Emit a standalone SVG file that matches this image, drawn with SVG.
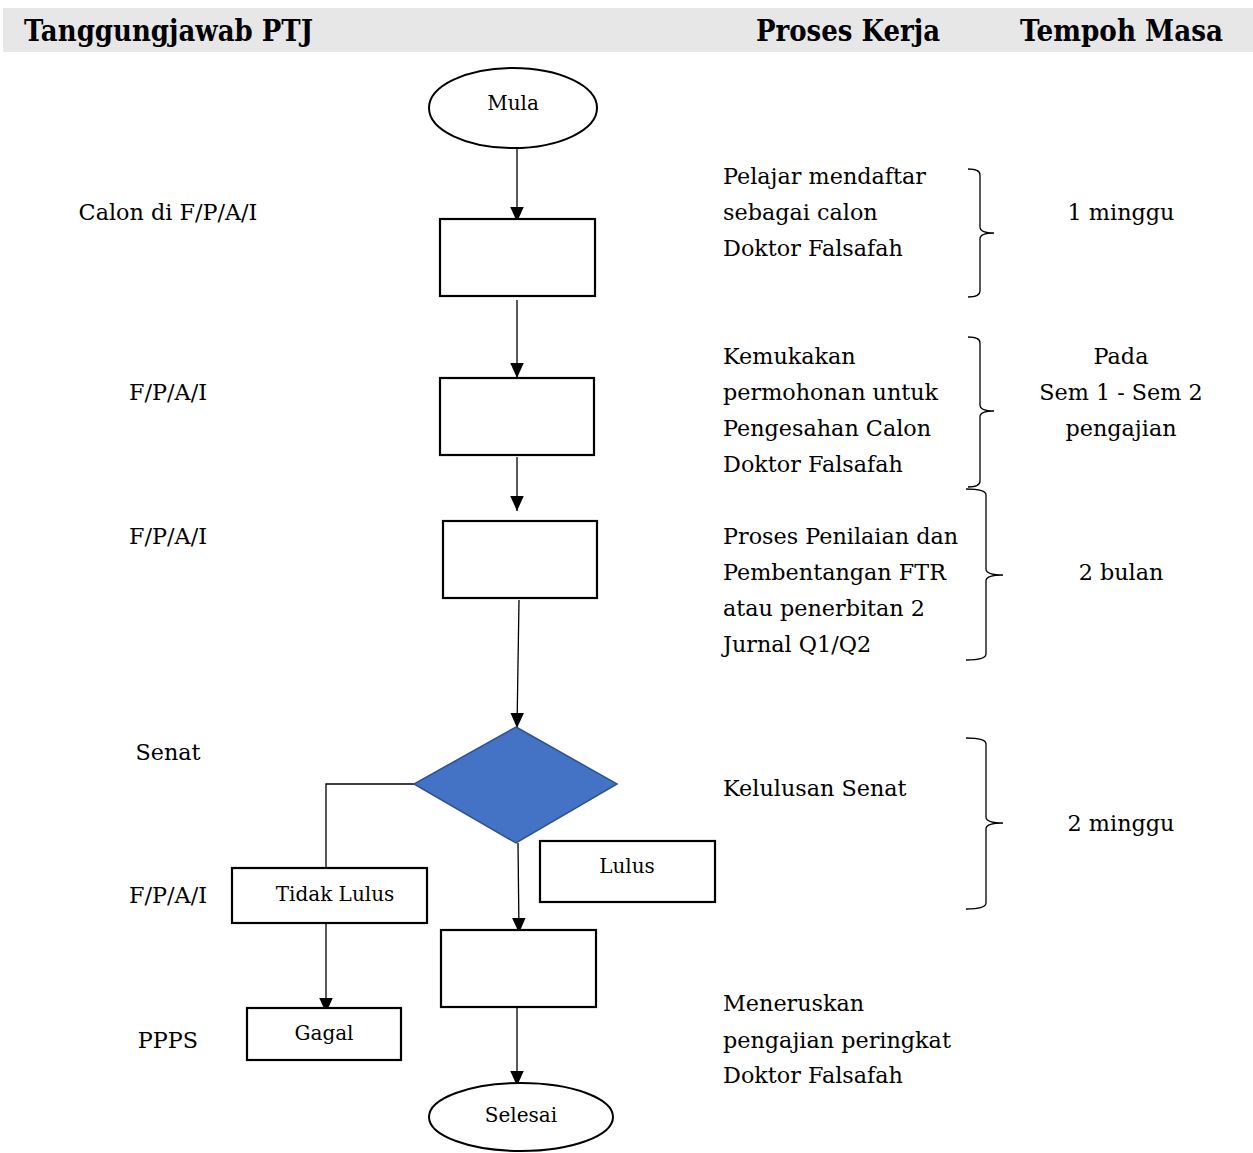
<svg xmlns="http://www.w3.org/2000/svg" width="1253" height="1153" viewBox="0 0 1253 1153">
<defs>
<style>
.t{font-family:"DejaVu Serif","Liberation Serif",serif;font-size:22.3px;fill:#000}
.c{text-anchor:middle}
.s{font-family:"DejaVu Serif","Liberation Serif",serif;font-size:20px;fill:#000;text-anchor:middle}
.h{font-family:"DejaVu Serif","Liberation Serif",serif;font-size:30px;font-weight:bold;fill:#000}
.box{fill:#fff;stroke:#000;stroke-width:2.2}
.ln{fill:none;stroke:#000;stroke-width:1.3}
.br{fill:none;stroke:#000;stroke-width:1.3}
</style>
<marker id="ah" viewBox="0 0 10 10" refX="10" refY="5" markerWidth="15" markerHeight="15" markerUnits="userSpaceOnUse" orient="auto">
<path d="M0,0.5 L10,5 L0,9.5 z" fill="#000"/>
</marker>
</defs>
<rect x="3" y="8" width="1250" height="44" fill="#e7e7e7"/>
<text class="h" x="24" y="41" textLength="289" lengthAdjust="spacingAndGlyphs">Tanggungjawab PTJ</text>
<text class="h" x="756" y="41" textLength="184" lengthAdjust="spacingAndGlyphs">Proses Kerja</text>
<text class="h" x="1020" y="41" textLength="203" lengthAdjust="spacingAndGlyphs">Tempoh Masa</text>

<g id="connectors">
<line class="ln" x1="517" y1="145" x2="517" y2="222" marker-end="url(#ah)"/>
<line class="ln" x1="517" y1="300" x2="517" y2="378" marker-end="url(#ah)"/>
<line class="ln" x1="517" y1="457" x2="517" y2="511" marker-end="url(#ah)"/>
<line class="ln" x1="519" y1="600" x2="517" y2="728" marker-end="url(#ah)"/>
<polyline class="ln" points="414,784 326,784 326,868"/>
<line class="ln" x1="326" y1="924" x2="326" y2="1013" marker-end="url(#ah)"/>
<line class="ln" x1="518" y1="843" x2="519" y2="933" marker-end="url(#ah)"/>
<line class="ln" x1="517" y1="1008" x2="517" y2="1086" marker-end="url(#ah)"/>
</g>

<g id="mula">
<ellipse cx="513" cy="108" rx="84" ry="40" fill="#fff" stroke="#000" stroke-width="2"/>
<text class="s" x="513" y="110">Mula</text>
</g>
<g id="box1"><rect class="box" x="440" y="219" width="155" height="77"/></g>
<g id="box2"><rect class="box" x="440" y="378" width="154" height="77"/></g>
<g id="box3"><rect class="box" x="443" y="521" width="154" height="77"/></g>
<g id="decision"><polygon points="516,727 617,784 516,843 414,784" fill="#4472c4" stroke="#2f528f" stroke-width="1.5"/></g>
<g id="tidaklulus">
<rect class="box" x="232" y="868" width="195" height="55"/>
<text class="s" x="335" y="901">Tidak Lulus</text>
</g>
<g id="lulus">
<rect class="box" x="540" y="841" width="175" height="61"/>
<text class="s" x="627" y="873">Lulus</text>
</g>
<g id="gagal">
<rect class="box" x="247" y="1008" width="154" height="52"/>
<text class="s" x="324" y="1040">Gagal</text>
</g>
<g id="box4"><rect class="box" x="441" y="930" width="155" height="77"/></g>
<g id="selesai">
<ellipse cx="521" cy="1117" rx="92" ry="34" fill="#fff" stroke="#000" stroke-width="2"/>
<text class="s" x="521" y="1122">Selesai</text>
</g>

<g id="left-labels">
<text class="t c" x="168" y="220">Calon di F/P/A/I</text>
<text class="t c" x="168" y="400">F/P/A/I</text>
<text class="t c" x="168" y="544">F/P/A/I</text>
<text class="t c" x="168" y="760">Senat</text>
<text class="t c" x="168" y="903">F/P/A/I</text>
<text class="t c" x="168" y="1048">PPPS</text>
</g>

<g id="process-text">
<text class="t" x="723" y="184">Pelajar mendaftar</text>
<text class="t" x="723" y="220">sebagai calon</text>
<text class="t" x="723" y="256">Doktor Falsafah</text>
<text class="t" x="723" y="364">Kemukakan</text>
<text class="t" x="723" y="400">permohonan untuk</text>
<text class="t" x="723" y="436">Pengesahan Calon</text>
<text class="t" x="723" y="472">Doktor Falsafah</text>
<text class="t" x="723" y="544">Proses Penilaian dan</text>
<text class="t" x="723" y="580">Pembentangan FTR</text>
<text class="t" x="723" y="616">atau penerbitan 2</text>
<text class="t" x="723" y="652">Jurnal Q1/Q2</text>
<text class="t" x="723" y="796">Kelulusan Senat</text>
<text class="t" x="723" y="1011">Meneruskan</text>
<text class="t" x="723" y="1048">pengajian peringkat</text>
<text class="t" x="723" y="1083">Doktor Falsafah</text>
</g>

<g id="braces">
<path class="br" d="M968,169 Q980,169 980,175 L980,227 Q980,233 994,233 Q980,233 980,239 L980,291 Q980,297 968,297"/>
<path class="br" d="M968,337 Q980,337 980,343 L980,405 Q980,411 994,411 Q980,411 980,417 L980,481 Q980,487 968,487"/>
<path class="br" d="M966,489 Q986,489 986,495 L986,569 Q986,575 1003,575 Q986,575 986,581 L986,654 Q986,660 966,660"/>
<path class="br" d="M966,738 Q986,738 986,744 L986,817 Q986,823 1003,823 Q986,823 986,829 L986,903 Q986,909 966,909"/>
</g>

<g id="time-text">
<text class="t c" x="1121" y="220">1 minggu</text>
<text class="t c" x="1121" y="364">Pada</text>
<text class="t c" x="1121" y="400">Sem 1 - Sem 2</text>
<text class="t c" x="1121" y="436">pengajian</text>
<text class="t c" x="1121" y="580">2 bulan</text>
<text class="t c" x="1121" y="831">2 minggu</text>
</g>
</svg>
